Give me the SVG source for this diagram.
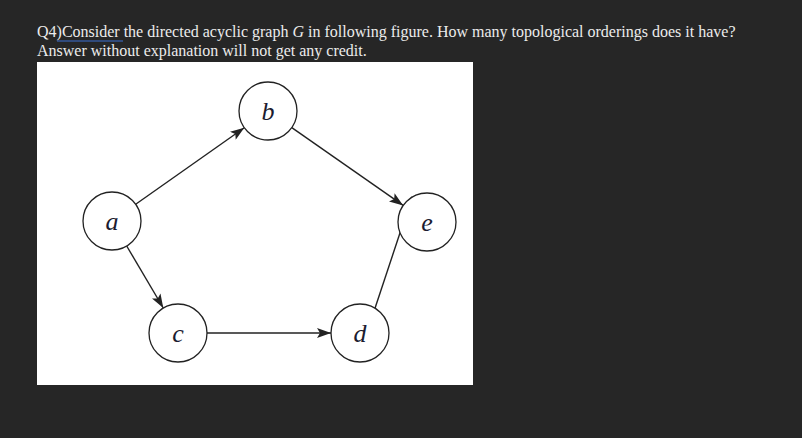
<svg xmlns="http://www.w3.org/2000/svg" width="802" height="438" viewBox="0 0 802 438">
<style>
.q{font-family:"Liberation Serif",serif;font-size:16px;fill:#ececec}
.n circle{fill:#fff;stroke:#222;stroke-width:1.3}
.n text{font-family:"Liberation Serif",serif;font-style:italic;font-size:26px;fill:#1c1c30;text-anchor:middle}
.e line{stroke:#222;stroke-width:1.4;marker-end:url(#ah)}
</style>
<defs><marker id="ah" markerWidth="14" markerHeight="10" refX="14" refY="5" orient="auto" markerUnits="userSpaceOnUse"><path d="M0,0 L14,5 L0,10 L3,5 Z" fill="#222"/></marker></defs>
<rect width="802" height="438" fill="#262626"/>
<text class="q" x="37" y="37">Q4)Consider the directed acyclic graph <tspan font-style="italic">G</tspan> in following figure. How many topological orderings does it have?</text>
<line x1="57" y1="41" x2="123" y2="41" stroke="#3b6fd0" stroke-width="1.2"/>
<text class="q" x="37" y="56">Answer without explanation will not get any credit.</text>
<rect x="37" y="62" width="436" height="323" fill="#fff"/>
<g class="e">
<line x1="135.7" y1="204.3" x2="244.3" y2="127.7"/>
<line x1="291.8" y1="127.6" x2="403.2" y2="205.4"/>
<line x1="126.7" y1="246" x2="163.3" y2="308"/>
<line x1="207" y1="333" x2="331" y2="333"/>
<line x1="375" y1="308.2" x2="412" y2="196.8"/>
</g>
<g id="a" class="n"><circle cx="112" cy="221" r="29"/><text x="112" y="230">a</text></g>
<g id="b" class="n"><circle cx="268" cy="111" r="29"/><text x="268" y="120">b</text></g>
<g id="e" class="n"><circle cx="427" cy="222" r="29"/><text x="427" y="231">e</text></g>
<g id="c" class="n"><circle cx="178" cy="333" r="29"/><text x="178" y="342">c</text></g>
<g id="d" class="n"><circle cx="360" cy="333" r="29"/><text x="360" y="342">d</text></g>
</svg>
